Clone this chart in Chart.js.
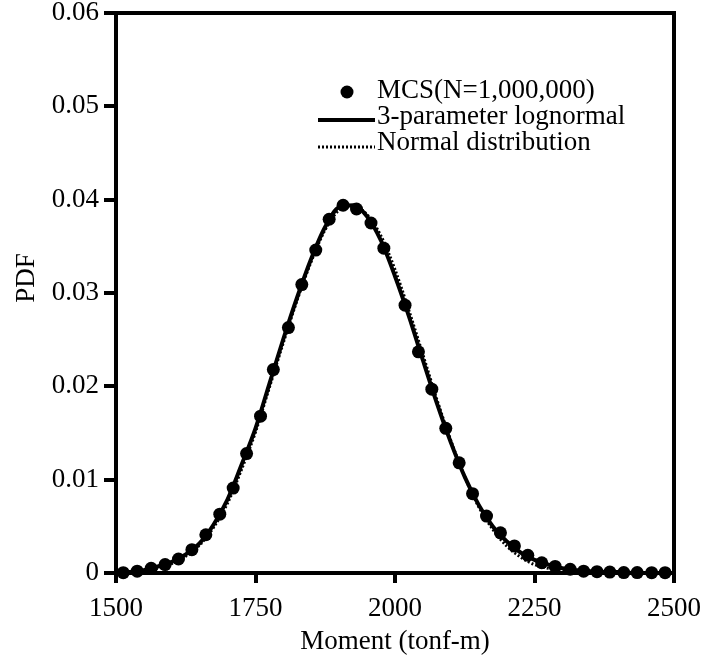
<!DOCTYPE html>
<html>
<head>
<meta charset="utf-8">
<script src="https://cdn.jsdelivr.net/npm/chart.js@4.4.1/dist/chart.umd.min.js"></script>
<style>
    html, body { margin: 0; padding: 0; background: #fff; }
    #wrap { width: 705px; height: 660px; }
</style>
</head>
<body>
<div id="wrap"><canvas id="pdfChart"></canvas></div>
<script>
// MCS histogram points
const mcsX = [1513, 1538, 1563, 1588, 1612, 1636, 1661, 1686, 1710, 1734,
              1759, 1782, 1809, 1833, 1858, 1882, 1907, 1931, 1957, 1980,
              2018, 2042, 2066, 2091, 2115, 2139, 2164, 2189, 2214, 2238,
              2263, 2287, 2314, 2338, 2362, 2385, 2410, 2434, 2460, 2484];
const mcsY = [0.00003, 0.0002, 0.0005, 0.0009, 0.0015, 0.0025, 0.0041, 0.0063, 0.0091, 0.0128,
              0.0168, 0.0218, 0.0263, 0.0309, 0.0346, 0.0379, 0.0394, 0.0390, 0.0375, 0.0348,
              0.0287, 0.0237, 0.0197, 0.0155, 0.0118, 0.0085, 0.0061, 0.0043, 0.0029, 0.0019,
              0.0011, 0.0007, 0.0004, 0.0002, 0.00014, 0.0001, 0.00005, 0.00005, 0.00003, 0.00003];

// fitted curves
const curveX = [1500, 1525, 1550, 1575, 1600, 1625, 1650, 1675, 1700, 1725,
                1750, 1775, 1800, 1825, 1850, 1875, 1900, 1925, 1950, 1975,
                2000, 2025, 2050, 2075, 2100, 2125, 2150, 2175, 2200, 2225,
                2250, 2275, 2300, 2325, 2350, 2375, 2400, 2425, 2450, 2475, 2500];
const lognormalY = [0.0000, 0.0001, 0.0003, 0.0007, 0.0012, 0.0020, 0.0032, 0.0052, 0.0079, 0.0116,
                    0.0155, 0.0203, 0.0251, 0.0296, 0.0337, 0.0371, 0.0392, 0.0394, 0.0382, 0.0356,
                    0.0318, 0.0275, 0.0228, 0.0182, 0.0140, 0.0103, 0.0073, 0.0050, 0.0034, 0.0022,
                    0.0014, 0.0009, 0.0005, 0.0003, 0.0002, 0.0001, 0.0001, 0.0000, 0.0000, 0.0000, 0.0000];
const normalY = [0.0000, 0.0001, 0.0002, 0.0005, 0.0010, 0.0018, 0.0030, 0.0049, 0.0075, 0.0111,
                 0.0151, 0.0199, 0.0247, 0.0293, 0.0334, 0.0368, 0.0389, 0.0393, 0.0384, 0.0361,
                 0.0325, 0.0281, 0.0234, 0.0186, 0.0142, 0.0103, 0.0071, 0.0047, 0.0029, 0.0017,
                 0.0009, 0.0005, 0.0002, 0.0001, 0.0000, 0.0000, 0.0000, 0.0000, 0.0000, 0.0000, 0.0000];

const xTicks = [1500, 1750, 2000, 2250, 2500];
const yTicks = [0, 0.01, 0.02, 0.03, 0.04, 0.05, 0.06];
const yTickLabels = ['0', '0.01', '0.02', '0.03', '0.04', '0.05', '0.06'];
const legendLabels = ['MCS(N=1,000,000)', '3-parameter lognormal', 'Normal distribution'];
const yTitle = 'PDF';

const serif = '"Liberation Serif", "Times New Roman", serif';

function pairs(xs, ys) {
    return xs.map((x, i) => ({ x: x, y: ys[i] }));
}

// top/right frame lines
const frame = {
    id: 'frame',
    beforeDatasetsDraw(chart) {
        const { ctx, chartArea } = chart;
        ctx.save();
        ctx.strokeStyle = '#000';
        ctx.lineWidth = 4;
        ctx.beginPath();
        ctx.moveTo(chartArea.left - 2, chartArea.top);
        ctx.lineTo(chartArea.right, chartArea.top);
        ctx.lineTo(chartArea.right, chartArea.bottom);
        ctx.stroke();
        ctx.restore();
    }
};

// y title sits a bit above the middle in the original
const pdfTitle = {
    id: 'pdfTitle',
    afterDraw(chart) {
        const { ctx, chartArea } = chart;
        ctx.save();
        ctx.translate(27, (chartArea.top + chartArea.bottom) / 2 - 15);
        ctx.rotate(-Math.PI / 2);
        ctx.fillStyle = '#000';
        ctx.font = '27px ' + serif;
        ctx.textAlign = 'center';
        ctx.textBaseline = 'middle';
        ctx.fillText(yTitle, 0, 0);
        ctx.restore();
    }
};

// legend drawn inside the plot, like the original
const insideLegend = {
    id: 'insideLegend',
    afterDatasetsDraw(chart) {
        const { ctx, chartArea } = chart;
        const tx = chartArea.left + 261;
        const rows = [chartArea.top + 78, chartArea.top + 104, chartArea.top + 130];
        ctx.save();
        ctx.fillStyle = '#000';
        ctx.strokeStyle = '#000';

        ctx.beginPath();
        ctx.arc(chartArea.left + 231, rows[0] + 1, 6.5, 0, Math.PI * 2);
        ctx.fill();

        ctx.lineWidth = 4;
        ctx.beginPath();
        ctx.moveTo(chartArea.left + 202, rows[1] + 3);
        ctx.lineTo(chartArea.left + 259, rows[1] + 3);
        ctx.stroke();

        ctx.lineWidth = 3;
        ctx.setLineDash([2, 2]);
        ctx.beginPath();
        ctx.moveTo(chartArea.left + 202, rows[2] + 4);
        ctx.lineTo(chartArea.left + 259, rows[2] + 4);
        ctx.stroke();
        ctx.setLineDash([]);

        ctx.font = '27px ' + serif;
        ctx.textBaseline = 'middle';
        ctx.textAlign = 'left';
        legendLabels.forEach((t, i) => ctx.fillText(t, tx, rows[i]));
        ctx.restore();
    }
};

new Chart(document.getElementById('pdfChart'), {
    type: 'line',
    data: {
        datasets: [{
            label: legendLabels[0],
            data: pairs(mcsX, mcsY),
            showLine: false,
            pointRadius: 6.5,
            pointBackgroundColor: '#000',
            pointBorderWidth: 0,
            clip: false
        }, {
            label: legendLabels[1],
            data: pairs(curveX, lognormalY),
            borderColor: '#000',
            borderWidth: 4,
            pointRadius: 0,
            cubicInterpolationMode: 'monotone'
        }, {
            label: legendLabels[2],
            data: pairs(curveX, normalY),
            borderColor: '#000',
            borderWidth: 3,
            borderDash: [2, 2],
            pointRadius: 0,
            cubicInterpolationMode: 'monotone'
        }]
    },
    options: {
        responsive: true,
        maintainAspectRatio: false,
        animation: false,
        layout: { padding: { top: 13, right: 31, left: 0, bottom: 0 } },
        plugins: {
            legend: { display: false },
            tooltip: { enabled: false }
        },
        scales: {
            x: {
                type: 'linear',
                min: 1500,
                max: 2500,
                afterBuildTicks: s => { s.ticks = xTicks.map(v => ({ value: v })); },
                afterFit: s => {
                    s.height = 87;
                    s.paddingLeft = 0;
                    s.paddingRight = 0;
                },
                border: { display: true, color: '#000', width: 4 },
                grid: { drawOnChartArea: false, drawTicks: true, tickLength: 10, color: '#000', lineWidth: 4, tickWidth: 4 },
                ticks: {
                    color: '#000',
                    padding: 12,
                    maxRotation: 0,
                    font: { family: serif, size: 27, lineHeight: 1 },
                    callback: v => String(v)
                },
                title: {
                    display: true,
                    text: 'Moment (tonf-m)',
                    color: '#000',
                    font: { family: serif, size: 27 },
                    padding: { top: 0, bottom: 2 }
                }
            },
            y: {
                min: 0,
                max: 0.06,
                afterBuildTicks: s => { s.ticks = yTicks.map(v => ({ value: v })); },
                afterFit: s => {
                    s.width = 116;
                    s.paddingTop = 0;
                    s.paddingBottom = 0;
                },
                border: { display: true, color: '#000', width: 4 },
                grid: { drawOnChartArea: false, drawTicks: true, tickLength: 12, color: '#000', lineWidth: 4, tickWidth: 4 },
                ticks: {
                    color: '#000',
                    padding: 5,
                    font: { family: serif, size: 27, lineHeight: 1 },
                    callback: (v, i) => yTickLabels[i]
                },
                title: { display: false }
            }
        }
    },
    plugins: [frame, pdfTitle, insideLegend]
});
</script>
</body>
</html>
